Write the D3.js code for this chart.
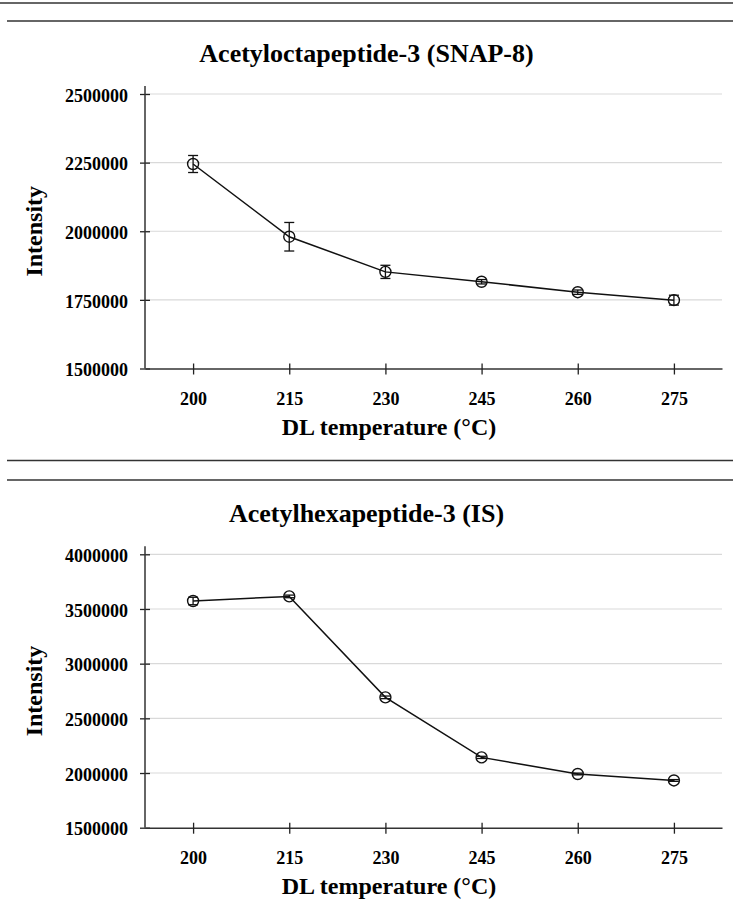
<!DOCTYPE html>
<html>
<head>
<meta charset="utf-8">
<script src="https://cdn.jsdelivr.net/npm/d3@7"></script>
<style>
  body { margin: 0; background: #fff; }
  svg text { font-family: "Liberation Serif", "Times New Roman", serif; font-weight: bold; fill: #000; }
</style>
</head>
<body>
<div id="chart"></div>
<script>
var temps = [200, 215, 230, 245, 260, 275];

var snapMean = [2245000, 1980000, 1852000, 1816000, 1778000, 1749000];
var snapErr = [31000, 52000, 24000, 8000, 8000, 18000];
var snapTicks = [1500000, 1750000, 2000000, 2250000, 2500000];

var isMean = [3573000, 3615000, 2692000, 2143000, 1991000, 1932000];
var isErr = [34000, 12000, 12000, 10000, 8000, 8000];
var isTicks = [1500000, 2000000, 2500000, 3000000, 3500000, 4000000];

var width = 733, height = 914;

var svg = d3.select("#chart")
   .append("svg")
   .attr("width", width)
   .attr("height", height);

// separator rules
function rule(y, x1) {
   svg.append("line")
      .attr("x1", x1).attr("x2", width)
      .attr("y1", y).attr("y2", y)
      .style("stroke", "#333")
      .style("stroke-width", 1.5);
}
rule(3, 0);
rule(21, 7);
rule(460.5, 7);
rule(480, 7);

var left = 145, right = 722;

var x = d3.scaleLinear()
   .domain([192.5, 282.5])
   .range([left, right]);

function panel(title, means, errs, ticks, top, bottom, titleY) {
   var y = d3.scaleLinear()
      .domain([ticks[0], ticks[ticks.length - 1]])
      .range([bottom, top]);

   var g = svg.append("g");

   // title
   g.append("text")
      .attr("x", width / 2)
      .attr("y", titleY)
      .attr("text-anchor", "middle")
      .style("font-size", "26px")
      .text(title);

   // grid
   g.append("g").selectAll("line")
      .data(ticks.slice(1))
      .enter().append("line")
      .attr("x1", left).attr("x2", right)
      .attr("y1", function(d) { return y(d); })
      .attr("y2", function(d) { return y(d); })
      .style("stroke", "#d9d9d9")
      .style("stroke-width", 1.2);

   // y axis
   var ya = g.append("g")
      .attr("transform", "translate(" + left + ",0)")
      .call(d3.axisLeft(y).tickValues(ticks).tickSize(5).tickPadding(12).tickFormat(d3.format("d")));
   ya.select(".domain").remove();
   ya.selectAll(".tick line").attr("x1", -5).attr("x2", 5).style("stroke", "#222").style("stroke-width", 1.3);
   ya.selectAll(".tick text").style("font-size", "18px").attr("dy", "0.4em")
      .style("font-family", '"Liberation Serif", "Times New Roman", serif');
   g.append("line")
      .attr("x1", left).attr("x2", left)
      .attr("y1", top - 8).attr("y2", bottom)
      .style("stroke", "#333").style("stroke-width", 1.5);

   // x axis
   var xa = g.append("g")
      .attr("transform", "translate(0," + bottom + ")")
      .call(d3.axisBottom(x).tickValues(temps).tickSize(6).tickPadding(18).tickSizeOuter(0).tickFormat(d3.format("d")));
   xa.select(".domain").style("stroke", "#333").style("stroke-width", 1.5);
   xa.selectAll(".tick line").attr("y1", -5).attr("y2", 6).style("stroke", "#222").style("stroke-width", 1.3);
   xa.selectAll(".tick text").style("font-size", "18px")
      .style("font-family", '"Liberation Serif", "Times New Roman", serif');

   // axis titles
   g.append("text")
      .attr("x", 389)
      .attr("y", bottom + 66)
      .attr("text-anchor", "middle")
      .style("font-size", "24px")
      .text("DL temperature (\u00B0C)");

   g.append("text")
      .attr("transform", "translate(42," + ((top + bottom) / 2) + ") rotate(-90)")
      .attr("text-anchor", "middle")
      .style("font-size", "24px")
      .text("Intensity");

   var pts = temps.map(function(t, i) { return { t: t, m: means[i], e: errs[i] }; });

   // line
   g.append("path")
      .datum(pts)
      .attr("d", d3.line()
         .x(function(d) { return x(d.t); })
         .y(function(d) { return y(d.m); }))
      .style("fill", "none")
      .style("stroke", "#111")
      .style("stroke-width", 1.5);

   // error bars
   var eb = g.append("g").selectAll("g")
      .data(pts)
      .enter().append("g")
      .style("stroke", "#111")
      .style("stroke-width", 1.3);
   eb.append("line")
      .attr("x1", function(d) { return x(d.t); })
      .attr("x2", function(d) { return x(d.t); })
      .attr("y1", function(d) { return y(d.m - d.e); })
      .attr("y2", function(d) { return y(d.m + d.e); });
   eb.append("line")
      .attr("x1", function(d) { return x(d.t) - 5; })
      .attr("x2", function(d) { return x(d.t) + 5; })
      .attr("y1", function(d) { return y(d.m + d.e); })
      .attr("y2", function(d) { return y(d.m + d.e); });
   eb.append("line")
      .attr("x1", function(d) { return x(d.t) - 5; })
      .attr("x2", function(d) { return x(d.t) + 5; })
      .attr("y1", function(d) { return y(d.m - d.e); })
      .attr("y2", function(d) { return y(d.m - d.e); });

   // markers
   g.append("g").selectAll("circle")
      .data(pts)
      .enter().append("circle")
      .attr("cx", function(d) { return x(d.t); })
      .attr("cy", function(d) { return y(d.m); })
      .attr("r", 5.5)
      .style("fill", "none")
      .style("stroke", "#111")
      .style("stroke-width", 1.4);
}

panel("Acetyloctapeptide-3 (SNAP-8)", snapMean, snapErr, snapTicks, 94, 368.5, 62);
panel("Acetylhexapeptide-3 (IS)", isMean, isErr, isTicks, 554.3, 827.7, 522);
</script>
</body>
</html>
